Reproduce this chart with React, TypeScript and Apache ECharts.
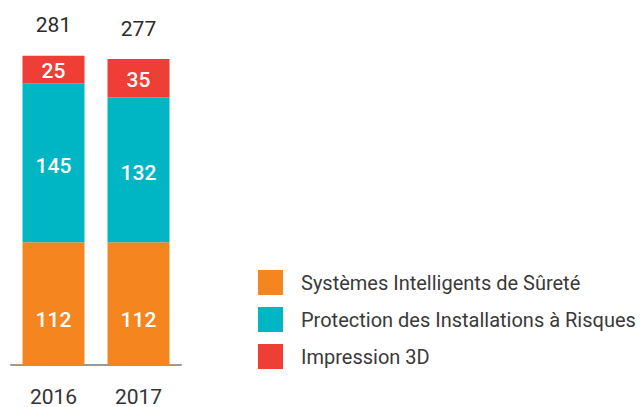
import React, { useEffect, useRef } from "react";
import * as echarts from "echarts";

const years = ["2016", "2017"];
const surete = [112, 112];
const protection = [145, 132];
const impression = [25, 35];
const totals = [281, 277];
const seriesNames = [
  "Systèmes Intelligents de Sûreté",
  "Protection des Installations à Risques",
  "Impression 3D",
];
const colors = ["#F5851F", "#00B6C4", "#EF3E36"];

const FONT = "Roboto";

export default function App() {
  const ref = useRef<HTMLDivElement>(null);
  useEffect(() => {
    if (!ref.current) return;
    const chart = echarts.init(ref.current, undefined, { renderer: "svg" });
    const inside = (offY: number) => ({
      show: true,
      position: "inside",
      color: "#ffffff",
      fontSize: 21,
      fontWeight: 500,
      fontFamily: FONT,
      offset: [0, offY],
    });
    chart.setOption({
      animation: false,
      textStyle: { fontFamily: FONT },
      grid: { left: 11, width: 170, top: 36, bottom: 39, containLabel: false },
      xAxis: {
        type: "category",
        data: years,
        axisLine: { show: true, lineStyle: { color: "#9a9a9a", width: 2 } },
        axisTick: { show: false },
        axisLabel: { color: "#333333", fontSize: 21, fontFamily: FONT, margin: 21 },
      },
      yAxis: {
        type: "value",
        min: 0,
        max: 300,
        show: false,
        splitLine: { show: false },
      },
      legend: {
        data: seriesNames,
        orient: "vertical",
        left: 253,
        top: 265,
        itemWidth: 25,
        itemHeight: 25,
        itemGap: 12,
        icon: "rect",
        textStyle: {
          color: "#3a3a3a",
          fontSize: 20,
          fontFamily: FONT,
          padding: [0, 0, 0, 13],
        },
      },
      series: [
        {
          name: seriesNames[0],
          type: "bar",
          stack: "a",
          barWidth: 62,
          data: surete,
          itemStyle: { color: colors[0] },
          label: inside(16),
        },
        {
          name: seriesNames[1],
          type: "bar",
          stack: "a",
          data: protection,
          itemStyle: { color: colors[1] },
          label: inside(3),
        },
        {
          name: seriesNames[2],
          type: "bar",
          stack: "a",
          data: impression,
          itemStyle: { color: colors[2] },
          label: inside(2),
        },
        {
          name: "total",
          type: "bar",
          stack: "a",
          data: totals.map(() => 0),
          itemStyle: { color: "transparent" },
          label: {
            show: true,
            position: "top",
            distance: 20,
            color: "#2b2b2b",
            fontSize: 21,
            fontFamily: FONT,
            formatter: (p: any) => String(totals[p.dataIndex]),
          },
        },
      ],
    });
    return () => chart.dispose();
  }, []);
  return <div ref={ref} style={{ width: 641, height: 407, position: "absolute", left: 0, top: 0 }} />;
}
